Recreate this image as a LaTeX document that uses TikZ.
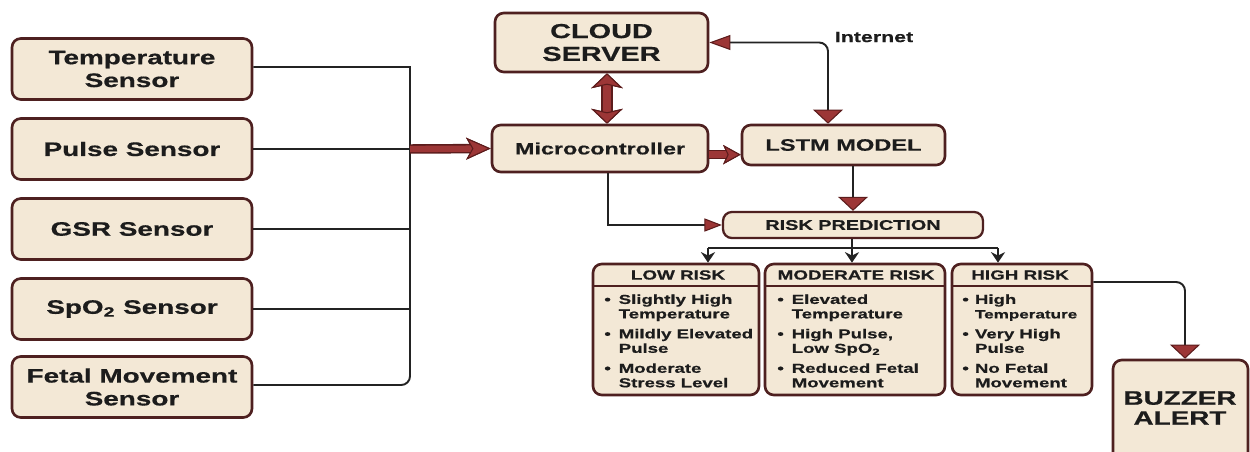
\documentclass[tikz,border=0pt]{standalone}
\usepackage{fontspec}
\newfontfamily\dfont{Liberation Sans Bold}[FakeStretch=1.43, FakeBold=0.6]
\usetikzlibrary{arrows.meta}
\definecolor{boxfill}{HTML}{F3E8D6}
\definecolor{boxline}{HTML}{4E2020}
\definecolor{arrowred}{HTML}{9C3636}
\definecolor{arrowdark}{HTML}{5C1C1C}
\definecolor{ink}{HTML}{1C1C1C}
\definecolor{wirecol}{HTML}{232323}
\newcommand{\fsz}[2]{\fontsize{#1}{#2}\selectfont}
\begin{document}
\begin{tikzpicture}[x=0.02cm,y=-0.02cm,
  blk/.style={draw=boxline, fill=boxfill, line width=1.5pt, rounded corners=5pt,
    inner sep=0pt, text=ink, align=center},
  sensor/.style={blk, minimum width=4.8cm, minimum height=1.22cm, font=\dfont\fsz{11.1}{13}},
  riskbox/.style={blk, minimum height=2.62cm},
  hdr/.style={inner sep=0pt, text=ink, font=\dfont\fsz{7.5}{9}},
  bul/.style={inner sep=0pt, text=ink, anchor=north west, font=\dfont\fsz{7.4}{8.25}},
  link/.style={draw=wirecol, line width=1.1pt},
  sepline/.style={draw=boxline, line width=1.1pt},
  fat/.style 2 args={draw=arrowred, line width=#1, preaction={draw=arrowdark, line width=#2}}
]
\useasboundingbox (0,0) rectangle (1250,451);
\clip (0,0) rectangle (1250,451);

% sensors
\node[sensor] (temp)  at (132,69)  {Temperature\\Sensor};
\node[sensor] (pulse) at (132,149) {Pulse Sensor};
\node[sensor] (gsr)   at (132,229) {GSR Sensor};
\node[sensor] (spo)   at (132,309) {SpO\textsubscript{2} Sensor};
\node[sensor] (fetal) at (132,387) {Fetal Movement\\Sensor};

% processing
\node[blk, minimum width=4.26cm, minimum height=1.18cm, font=\dfont\fsz{11.5}{13}] (cloud) at (601.5,42.5) {CLOUD\\SERVER};
\node[blk, minimum width=4.32cm, minimum height=0.94cm, font=\dfont\fsz{9.3}{11}] (micro) at (600,148.5) {Microcontroller};
\node[blk, minimum width=4.06cm, minimum height=0.8cm, font=\dfont\fsz{9.4}{11}] (lstm) at (843.5,145) {LSTM MODEL};
\node[blk, minimum width=5.2cm, minimum height=0.52cm, line width=1.3pt, font=\dfont\fsz{7.9}{9}] (risk) at (853,225) {RISK PREDICTION};
\node[inner sep=0pt, text=ink, font=\dfont\fsz{8.5}{10}] (inettxt) at (874,37) {Internet};

% risk categories
\node[riskbox, minimum width=3.32cm] (low)  at (676,329.5) {};
\node[riskbox, minimum width=3.6cm]  (mod)  at (855,329.5) {};
\node[riskbox, minimum width=2.8cm]  (high) at (1022,329.5) {};
\draw[sepline] (low.west |- 0,286) -- (low.east |- 0,286);
\draw[sepline] (mod.west |- 0,286) -- (mod.east |- 0,286);
\draw[sepline] (high.west |- 0,286) -- (high.east |- 0,286);
\node[hdr] (lowhdr)  at (678,275)  {LOW RISK};
\node[hdr] (modhdr)  at (856,275)  {MODERATE RISK};
\node[hdr] (highhdr) at (1020,275) {HIGH RISK};

\node[bul] (lowtxt) at (604,293.4) {\begin{tabular}[t]{@{}l@{\hspace{4.5pt}}l@{}}
\textbullet & Slightly High\\ & Temperature\\[3.1pt]
\textbullet & Mildly Elevated\\ & Pulse\\[3.1pt]
\textbullet & Moderate\\ & Stress Level\end{tabular}};
\node[bul] (modtxt) at (777,293.4) {\begin{tabular}[t]{@{}l@{\hspace{4.5pt}}l@{}}
\textbullet & Elevated\\ & Temperature\\[3.1pt]
\textbullet & High Pulse,\\ & Low SpO\textsubscript{2}\\[3.1pt]
\textbullet & Reduced Fetal\\ & Movement\end{tabular}};
\node[bul] (hightxt) at (962,293.4) {\begin{tabular}[t]{@{}l@{\hspace{3.5pt}}l@{}}
\textbullet & High\\ & {\fsz{6.8}{8.25}Temperature}\\[3.1pt]
\textbullet & Very High\\ & Pulse\\[3.1pt]
\textbullet & No Fetal\\ & Movement\end{tabular}};

% alarm
\node[blk, minimum width=2.7cm, minimum height=2.2cm] (buzzer) at (1180.5,415) {};
\node[inner sep=0pt, text=ink, align=center, font=\dfont\fsz{11.1}{11.4}] (buzztxt) at (1180,408) {BUZZER\\ALERT};

% sensor bus: sharp top corner, rounded bottom corner
\coordinate (bustop) at (410,67);
\coordinate (busbot) at (410,385);
\draw[link] (temp.east |- bustop) -- (bustop) [rounded corners=5pt] -- (busbot) -- (fetal.east |- busbot);
\draw[link] (pulse.east) -- (pulse.east -| bustop);
\draw[link] (gsr.east) -- (gsr.east -| bustop);
\draw[link] (spo.east) -- (spo.east -| bustop);
\coordinate (busout) at (pulse.east -| bustop);

% thick data arrows
\draw[fat={3.6pt}{5.4pt}, -{Stealth[length=14pt, width=12.5pt, inset=3.5pt, fill=arrowred, color=arrowdark, line width'=0.6pt]}] (busout) -- (micro.west);
\draw[fat={3.6pt}{5.4pt}, -{Stealth[length=10pt, width=11pt, inset=2.5pt, fill=arrowred, color=arrowdark, line width'=0.6pt]}] ([yshift=-3.5pt]micro.east) -- ([yshift=-3.5pt]micro.east -| lstm.west);
\coordinate (dbl) at (607,0);
\draw[fat={4.6pt}{6.4pt}, {Stealth[length=8.5pt, width=18pt, inset=2pt, fill=arrowred, color=arrowdark, line width'=0.6pt]}-{Stealth[length=8.5pt, width=18pt, inset=2pt, fill=arrowred, color=arrowdark, line width'=0.6pt]}] (cloud.south -| dbl) -- (micro.north -| dbl);

% internet link
\coordinate (inet) at (828,0);
\draw[link, rounded corners=5pt, {Triangle[length=12pt, width=8.5pt, fill=arrowred, color=arrowdark, line width'=0.6pt]}-{Triangle[length=8pt, width=17pt, fill=arrowred, color=arrowdark, line width'=0.6pt]}] (cloud.east) -- (inet |- cloud.east) -- (inet |- lstm.north);

% to risk prediction
\coordinate (mc) at (608,0);
\draw[link, -{Triangle[length=10pt, width=7.5pt, fill=arrowred, color=arrowdark, line width'=0.6pt]}] (micro.south -| mc) -- (mc |- risk.west) -- (risk.west);
\draw[link, -{Triangle[length=8pt, width=17pt, fill=arrowred, color=arrowdark, line width'=0.6pt]}] (lstm.south -| risk.north) -- (risk.north);

% branch to categories
\coordinate (bl) at (708,248);
\coordinate (bm) at (852,248);
\coordinate (bh) at (998,248);
\draw[link] (risk.south -| bm) -- (bm);
\draw[link] (bl) -- (bh);
\draw[link, -{Stealth[length=6pt, width=8pt]}] (bl) -- (bl |- low.north);
\draw[link, -{Stealth[length=6pt, width=8pt]}] (bm) -- (bm |- mod.north);
\draw[link, -{Stealth[length=6pt, width=8pt]}] (bh) -- (bh |- high.north);

% high risk to buzzer
\coordinate (bz) at (1185,282);
\draw[link, rounded corners=5pt, -{Triangle[length=8pt, width=17pt, fill=arrowred, color=arrowdark, line width'=0.6pt]}] (high.east |- bz) -- (bz) -- (bz |- buzzer.north);
\end{tikzpicture}
\end{document}
